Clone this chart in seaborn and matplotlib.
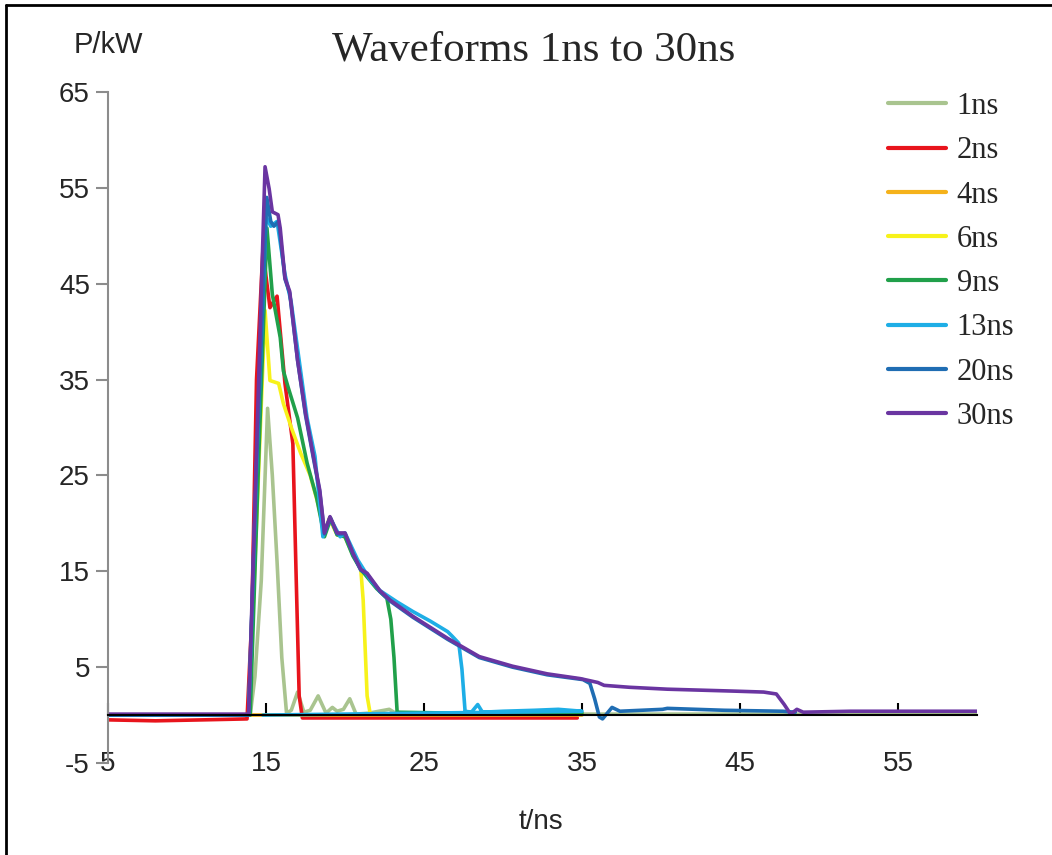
import pandas as pd
import matplotlib
matplotlib.use('Agg')
import matplotlib.pyplot as plt
import seaborn as sns
from matplotlib.lines import Line2D

# pulse widths (legend labels) and colours
series_names = ['1ns', '2ns', '4ns', '6ns', '9ns', '13ns', '20ns', '30ns']
series_colors = ['#a9c48f', '#e8141c', '#f5b21b', '#f7f21a', '#21a04a', '#1eaee6', '#1f6db3', '#6a35a1']

# waveforms (t in ns, P in kW)
t_1 = [5, 10, 14.0, 14.3, 14.7, 15.1, 15.4, 15.7, 16.0, 16.3, 16.6, 17.0, 17.4, 17.8, 18.3,
       18.8, 19.2, 19.5, 19.9, 20.3, 20.7, 21.5, 22.8, 23.3, 25, 30, 35, 40, 45, 50, 55, 60]
p_1 = [0, 0, 0, 4, 14, 32, 25, 16, 6, 0.2, 0.5, 2.4, 0.3, 0.5, 2.0,
       0.2, 0.8, 0.4, 0.6, 1.7, 0.1, 0.2, 0.6, 0.1, 0.2, 0.2, 0.1, 0.1, 0.1, 0.1, 0.1, 0.1]

t_2 = [5, 8, 11, 13.8, 14.1, 14.4, 14.8, 15.25, 15.5, 15.7, 16.2, 16.7, 16.9, 17.1, 17.3,
       20, 25, 30, 34.7]
p_2 = [-0.5, -0.6, -0.5, -0.4, 10, 35, 48.4, 42.5, 43.2, 43.7, 34.6, 28.3, 15, 2, -0.3,
       -0.3, -0.3, -0.3, -0.3]

t_4 = [5, 14, 20, 25, 30, 35]
p_4 = [0, 0, 0, 0, 0, 0]

t_6 = [5, 10, 13.9, 14.4, 14.94, 15.25, 15.8, 16.1, 16.6, 17.2, 17.8, 18.3, 18.7, 19.0,
       19.5, 20.0, 20.5, 21.0, 21.15, 21.4, 21.6, 25, 30, 35]
p_6 = [0, 0, 0, 20, 42.2, 34.9, 34.6, 32.5, 30, 27.3, 25, 22, 19, 20.5,
       18.8, 18.6, 16.7, 15.2, 12, 2, 0.1, 0.1, 0.1, 0.1]

t_9 = [5, 10, 14.0, 14.5, 15.06, 15.4, 15.9, 16.1, 16.4, 17.0, 17.6, 18.2, 18.7, 19.1,
       19.5, 20.0, 20.5, 21.0, 22.0, 22.65, 22.9, 23.1, 23.3, 27, 30, 35]
p_9 = [0, 0, 0, 25, 50.8, 43.9, 39.4, 35.9, 34.2, 31, 26.3, 22.7, 18.6, 20.5,
       18.8, 18.6, 16.6, 15.2, 13.2, 12.2, 10, 6, 0.3, 0.2, 0.2, 0.2]

t_13 = [5, 10, 13.9, 14.4, 15.0, 15.3, 15.7, 16.2, 16.6, 17.1, 17.6, 18.1, 18.6, 19.05,
        19.4, 19.7, 20.0, 20.8, 21.6, 22.2, 23.3, 24.3, 25.4, 26.5, 26.8, 27.2, 27.4, 27.6,
        28.0, 28.4, 28.7, 30, 32, 33.5, 35, 14.8]
p_13 = [0, 0, 0, 26, 52, 51, 51.5, 46, 43, 37, 31, 27, 18.6, 20.6,
        19.5, 18.6, 19, 16.2, 14.1, 13.0, 11.8, 10.8, 9.8, 8.7, 8.2, 7.5, 4.8, 0.4,
        0.3, 1.1, 0.3, 0.4, 0.5, 0.6, 0.4, 0.0]

t_20 = [5, 10, 13.9, 14.4, 15.05, 15.3, 15.5, 15.8, 16.2, 16.5, 17.0, 17.5, 18.0, 18.4,
        18.7, 19.05, 19.5, 20.0, 20.5, 21.0, 21.4, 22.2, 22.85, 24.3, 26.5, 28.5, 30.6,
        32.8, 35.06, 35.5, 35.8, 36.1, 36.3, 36.9, 37.4, 40.1, 40.4, 44, 47.7, 48.5]
p_20 = [0, 0, 0, 26, 54, 51.5, 51, 51.5, 45.5, 44, 37, 31.3, 26.8, 23.3,
        18.9, 20.6, 18.9, 18.9, 16.8, 15.1, 14.7, 12.9, 11.9, 10.2, 7.9, 6.0, 5.0,
        4.2, 3.7, 3.3, 1.7, -0.2, -0.4, 0.8, 0.4, 0.6, 0.7, 0.5, 0.4, 0.3]

t_30 = [5, 8, 11, 13.9, 14.4, 14.94, 15.2, 15.4, 15.76, 15.9, 16.2, 16.5, 17.0, 17.5, 18.0,
        18.4, 18.7, 19.05, 19.5, 20.0, 20.5, 21.0, 21.4, 22.2, 22.85, 24.3, 26.5, 28.5,
        30.6, 32.8, 34.9, 36.0, 36.4, 38, 40.4, 42.5, 44.6, 46.5, 47.3, 47.8, 48.2, 48.6,
        49.0, 52, 56, 60]
p_30 = [0.1, 0.1, 0.1, 0.1, 27.6, 57.2, 54.9, 52.5, 52.2, 50.8, 45.6, 44.2, 37, 31.5, 27,
        23.5, 19, 20.7, 19, 19, 16.9, 15.2, 14.8, 13.0, 12.0, 10.3, 8.0, 6.1,
        5.1, 4.3, 3.8, 3.4, 3.1, 2.9, 2.7, 2.6, 2.5, 2.4, 2.2, 1.1, 0.1, 0.6,
        0.3, 0.4, 0.4, 0.4]

x_ticks = [5, 15, 25, 35, 45, 55]
y_ticks = [-5, 5, 15, 25, 35, 45, 55, 65]


def main():
    all_t = [t_1, t_2, t_4, t_6, t_9, t_13, t_20, t_30]
    all_p = [p_1, p_2, p_4, p_6, p_9, p_13, p_20, p_30]
    frames = []
    for name, t, p in zip(series_names, all_t, all_p):
        frames.append(pd.DataFrame({'t': t, 'p': p, 'series': name}))
    df = pd.concat(frames, ignore_index=True)

    sns.set_theme(style='white')
    plt.rcParams['font.family'] = ['Liberation Sans', 'DejaVu Sans']
    plt.rcParams['axes.unicode_minus'] = False

    fig = plt.figure(figsize=(10.52, 8.55), dpi=100)
    ax = fig.add_axes([108 / 1052, 1 - 763 / 855, 869 / 1052, 671 / 855])

    palette = dict(zip(series_names, series_colors))
    sns.lineplot(data=df, x='t', y='p', hue='series', hue_order=series_names,
                 palette=palette, sort=False, estimator=None, lw=2.6, ax=ax)

    ax.set_xlim(5, 60)
    ax.set_ylim(-5, 65)
    ax.set_xticks(x_ticks)
    ax.set_yticks(y_ticks)
    ax.set_xlabel('')
    ax.set_ylabel('')

    # Excel-like axes: x axis crossing at P = 0, labels kept at the bottom
    for side in ['top', 'right']:
        ax.spines[side].set_visible(False)
    ax.spines['bottom'].set_position(('data', 0))
    ax.spines['bottom'].set_color('black')
    ax.spines['bottom'].set_linewidth(1.5)
    ax.spines['left'].set_color('#8c8c8c')
    ax.spines['left'].set_linewidth(1.5)
    ax.tick_params(axis='x', direction='in', length=9, width=1.5, color='black',
                   pad=26, labelsize=20, bottom=True)
    ax.tick_params(axis='y', direction='out', length=9, width=1.5, color='#8c8c8c',
                   pad=4, labelsize=20, left=True)

    sns.move_legend(ax, 'upper left', bbox_to_anchor=(888 / 1052, 1 - 92 / 855),
                    bbox_transform=fig.transFigure, frameon=False, title=None,
                    prop={'family': 'Liberation Serif', 'size': 22},
                    handlelength=1.9, handletextpad=0.35, labelspacing=0.5,
                    borderpad=0, borderaxespad=0)
    for h in ax.get_legend().legend_handles:
        h.set_linewidth(3)

    fig.text(534 / 1052, 1 - 50 / 855, 'Waveforms 1ns to 30ns', ha='center', va='center',
             family='Liberation Serif', fontsize=31)
    fig.text(108 / 1052, 1 - 45 / 855, 'P/kW', ha='center', va='center', fontsize=21)
    fig.text(541 / 1052, 1 - 822 / 855, 't/ns', ha='center', va='center', fontsize=20)

    # screenshot frame (top and left edges)
    fig.add_artist(Line2D([6 / 1052, 6 / 1052], [0, 1 - 5 / 855], transform=fig.transFigure,
                          color='black', lw=2))
    fig.add_artist(Line2D([6 / 1052, 1], [1 - 5 / 855, 1 - 5 / 855], transform=fig.transFigure,
                          color='black', lw=2))

    fig.savefig('out.png', dpi=100)


if __name__ == '__main__':
    main()
